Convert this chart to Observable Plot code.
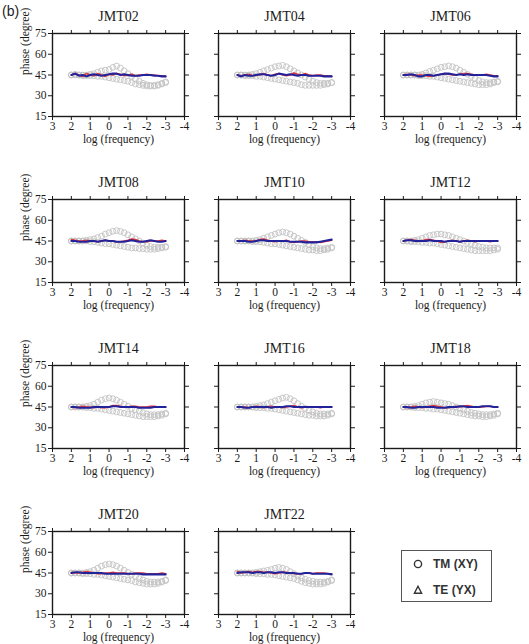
<!DOCTYPE html>
<html>
<head>
<meta charset="utf-8">
<script src="https://cdn.jsdelivr.net/npm/d3@7"></script>
<script src="https://cdn.jsdelivr.net/npm/@observablehq/plot@0.6"></script>
<style>
  body { margin: 0; background: #fff; }
  #page { position: relative; width: 529px; height: 644px; overflow: hidden; font-family: "Liberation Serif", serif; }
  #tag { position: absolute; left: 2px; top: 3px; font: 14px "Liberation Sans", sans-serif; color: #222; }
  #legend { position: absolute; left: 401px; top: 550px; width: 89px; height: 50px; border: 1.5px solid #555; background: #fff; }
  #legend .item { position: absolute; left: 0; height: 14px; display: flex; align-items: center; font: bold 12px "Liberation Sans", sans-serif; color: #333; }
  #legend svg { margin-left: 10px; margin-right: 9px; }
</style>
</head>
<body>
<div id="page">
  <div id="tag">(b)</div>
  <div id="legend">
    <div class="item" style="top:6px"><svg width="12" height="12"><circle cx="6" cy="6" r="3.6" fill="none" stroke="#333" stroke-width="1.4"/></svg>TM (XY)</div>
    <div class="item" style="top:32px"><svg width="12" height="12"><path d="M6 2.2 L9.6 9.2 L2.4 9.2 Z" fill="none" stroke="#333" stroke-width="1.4"/></svg>TE (YX)</div>
  </div>
</div>
<script>
// Stations, one panel each
const stations = ["JMT02", "JMT04", "JMT06", "JMT08", "JMT10", "JMT12", "JMT14", "JMT16", "JMT18", "JMT20", "JMT22"];

// log10 frequency sampling shared by all curves
const logFreq = [2, 1.8, 1.6, 1.4, 1.2, 1.0, 0.8, 0.6, 0.4, 0.2, 0, -0.2, -0.4, -0.6, -0.8, -1, -1.2, -1.4, -1.6, -1.8, -2, -2.2, -2.4, -2.6, -2.8, -3];

const xTicks = [3, 2, 1, 0, -1, -2, -3, -4];
const yTicks = [15, 30, 45, 60, 75];

// Grey circles, upper branch (degrees), one row per station
const tmCirclesHigh = [
  [45,45.5,45,45,45,45.5,46,47,48,48.5,49,50.5,51.5,50,48,46,44,42,40.5,39,38,37.5,37.5,38,39,40],
  [45,45,45,45,45.5,46,47,48,49,50,51,51.5,52,51,49.5,48,46.5,45,43.5,42,40.5,39.5,39,39,39,39.5],
  [45,45,45,45,45,45.5,46.5,47.5,48.5,49.5,50.5,51,51.5,51,50,48.5,47,45.5,44,42.5,41,40,39.5,39.5,40,40.5],
  [45,45,45,45,45.5,46,46.5,47.5,48.5,50,51,52,52.5,52,51,49.5,48,46.5,45,43.5,42,41,40.5,40.5,40.5,41],
  [45,45,45,45,45,45.5,46,47,48,49,50,51,51.5,51,50,48.5,47,45.5,44,42.5,41,40,39.5,39.5,40,40.5],
  [45,45,45,45.5,46,47,48,49,49.5,50,50,49.5,49,48,47,46,45,44,43,42,41,40.5,40,40,40,40],
  [45,45,45,45,45.5,46,47,48.5,50,51,51.5,51,50,48.5,47,45.5,44,43,42,41,40,39.5,39.5,39.5,40,40.5],
  [45,45,45,45,45,45.5,46,46.5,47.5,48.5,49.5,50.5,51.5,52,51,49.5,47.5,45.5,44,42.5,41.5,40.5,40,40,40,40.5],
  [45,45,45,45.5,46,47,48,48.5,49,48.5,48,47.5,47,46,45,44,43,42,41,40.5,40,39.5,39.5,39.5,40,40.5],
  [45,45,45,45,45.5,46,47,48.5,50,51,51.5,51,50,48.5,47,45.5,44,42.5,41,40,39,38.5,38.5,38.5,39,40],
  [45,45,45,45,45,45.5,46,46.5,47,47.5,48.5,49,48.5,47.5,46,44.5,43,41.5,40.5,39.5,39,38.5,38.5,38.5,39,40]
];

// Grey circles, lower branch (degrees)
const tmCirclesLow = [
  [45,45,45,44.5,44.5,44.5,44.5,44,44,43.5,43,42.5,42,41.5,41,40.5,39.5,38.5,38,37.5,37,37,37,37.5,38.5,39.5],
  [45,45,44.5,44.5,44.5,44,44,43.5,43,42.5,42,41.5,41,40.5,40,39.5,39,38,37.5,37.5,37.5,37.5,37.5,38,38.5,39.5],
  [45,45,45,45,44.5,44.5,44.5,44,44,43.5,43,42.5,42,41.5,41,40.5,40,39.5,39,38.5,38,38,38,38.5,39.5,40],
  [45,45,45,45,45,44.5,44.5,44,43.5,43,43,42.5,42,41.5,41,40.5,40,40,39.5,39.5,39,39,39,39.5,40,40.5],
  [45,45,45,45,44.5,44.5,44.5,44,43.5,43,43,42.5,42,41.5,41,40.5,40,39.5,39,38.5,38.5,38,38,38.5,39,40],
  [45,45,44.5,44.5,44.5,44,44,43.5,43.5,43,42.5,42,41.5,41,40.5,40,39.5,39,38.5,38,38,38,38,38,38.5,39],
  [45,45,45,45,44.5,44.5,44,44,43.5,43,42.5,42,41.5,41,40.5,40,39.5,39,38.5,38,38,38,38,38.5,39,40],
  [45,45,45,45,45,44.5,44.5,44.5,44,44,43.5,43,42.5,42,41.5,41,40.5,40,39.5,39,39,38.5,38.5,38.5,39,40],
  [45,45,45,44.5,44.5,44.5,44,44,43.5,43.5,43,42.5,42,41.5,41,40.5,40,39.5,39,38.5,38.5,38,38,38.5,39,40],
  [45,45,45,44.5,44.5,44.5,44,44,43.5,43,42.5,42,41.5,41,40.5,40,39.5,38.5,38,37.5,37,37,37,37.5,38.5,39.5],
  [45,45,45,45,45,44.5,44.5,44.5,44,44,43.5,43,42.5,42,41.5,41,40,39,38,37.5,37,37,37,37.5,38.5,39.5]
];

// Red curve (degrees)
const redPhase = [
  [45,46,45,44,46,45,44.5,46,45,44,45.5,45,46,45.5,44.5,45,45.5,44.5,45,45,45.5,45,45,44.5,44.5,44],
  [45,44.5,45,45.5,44.5,45,45,46,45,44.5,45.5,46,45,44.5,45,46.5,45.5,45,46,45,44.5,45,45,44.5,44.5,44],
  [45,45.5,45,44.5,45,45,44.5,44,44.5,45,45.5,46,45.5,45,45,45.5,46,46,45.5,45,45,45,45.5,45,44.5,44.5],
  [46,45.5,45,45,45.5,45,45,44.5,45,45.5,45,45,44.5,44.5,45,45.5,46.5,46,45,44.5,44.5,45,45,45,45.5,45],
  [45,45,45.5,45,45,45,46,46.5,45.5,45,44.5,45,45,45.5,44.5,44,44.5,45,45,44.5,44.5,44.5,44,44.5,45,45.5],
  [45,45.5,46,45.5,45,45,46,46,45.5,45,44,44.5,45,45.5,45,44.5,45,45.5,45,44.5,45,45,45,44.5,45,45],
  [45,44.5,45,45.5,45,45,44.5,45,44.5,44.5,45,46,46,45.5,45,45,45.5,45.5,45,45,45,45.5,45.5,45,45,45],
  [45,45,45,44.5,45,45.5,45,44.5,45,45.5,45,45,44.5,45,45.5,46,45,44.5,45,45,45,45,44.5,45,45,45],
  [45,44.5,45,45.5,45,44.5,45,45.5,46,45.5,45,44.5,44.5,45,45.5,45,45.5,46,45.5,45,45,45,45.5,45.5,45,45],
  [45.5,45,45,45.5,46,45.5,45,44.5,44.5,45,45,45.5,45,45,45,44.5,44.5,45,45,45,44.5,44.5,44.5,44.5,45,44.5],
  [46,45,45.5,46,45.5,46,46,45.5,45.5,45,44.5,45,45.5,45.5,45,44.5,44.5,44.5,45,45,44.5,45,45,45,44.5,44.5]
];

// Blue curve (degrees)
const bluePhase = [
  [45,46,44.5,45,44,45,45.5,45,44.5,45,45.5,46,46,45,45.5,45,44.5,44.5,44.5,45,45,45,44.5,44.5,44,44],
  [45,44,45,44.5,44.5,45,45.5,45.5,45,44.5,45,46,45.5,45,45.5,45,44.5,45,45,44.5,44.5,44.5,44.5,44,44,44],
  [45,45,45.5,45,44,44,45,45,44.5,45,45.5,46,46,45.5,45,45.5,45,45.5,45,45,45,45,45,44.5,44,44],
  [45,45,44.5,44.5,44.5,45,45,44.5,45,45.5,45,45,44.5,44.5,44.5,45,45.5,45,44.5,44.5,45,45.5,45,44.5,44.5,45],
  [45,45,45,44.5,44.5,45,45.5,45.5,45,45,45,45,45,45,44.5,44.5,44.5,44.5,44,44,44,44,44.5,45,45.5,46],
  [45,45.5,45.5,45,45,45,45,45.5,45,45,45,44.5,45,45,45,44.5,45,45,45,45,45,45,45,45,45,45],
  [45,45,44.5,44.5,44.5,44.5,45,45,45,45,45,45.5,45.5,45,45,45,45,45,44.5,44.5,44.5,44.5,45,45,45,45],
  [45,45,44.5,44.5,45,45,45,45,45,44.5,45,45,45,45.5,45.5,45,45,45,45,45,45,45,45,45,45,45],
  [45,45,44.5,44.5,45,45,45,45,45,44.5,44.5,44.5,45,45,45,45.5,45.5,45,45,45,45,45.5,45.5,45.5,45,45],
  [45,45.5,45.5,45,45,45,45,45,45,44.5,44.5,44.5,44.5,44.5,44.5,44.5,44.5,44.5,44.5,44,44,44,44,44,44,44],
  [45,45.5,45.5,45.5,45,45.5,45.5,45,45.5,45.5,45,45.5,45.5,45,45,45,44.5,44.5,45,45,44.5,44.5,44.5,44.5,44.5,44]
];

// Panel geometry on the page
const plotW = 132, plotH = 83;
const firstLeft = 52, firstTop = 33, colStep = 166, rowStep = 166;
const mL = 52, mR = 12, mT = 34, mB = 40;

const page = document.getElementById("page");
const noLabel = () => "";

stations.forEach((name, i) => {
  const col = i % 3, row = Math.floor(i / 3);
  const rows = logFreq.map((f, k) => ({
    f,
    hi: tmCirclesHigh[i][k],
    lo: tmCirclesLow[i][k],
    red: redPhase[i][k],
    blue: bluePhase[i][k]
  }));

  const chart = Plot.plot({
    width: mL + plotW + mR,
    height: mT + plotH + mB,
    marginLeft: mL, marginRight: mR, marginTop: mT, marginBottom: mB,
    style: { background: "transparent", overflow: "visible", fontFamily: "Liberation Serif, serif", fontSize: "11.5px", color: "#1a1a1a" },
    x: { domain: [3, -4] },
    y: { domain: [15, 75] },
    marks: [
      Plot.dot(rows, { x: "f", y: "lo", r: 2.9, stroke: "#c2c2c2", strokeWidth: 0.9 }),
      Plot.dot(rows, { x: "f", y: "hi", r: 2.9, stroke: "#c2c2c2", strokeWidth: 0.9 }),
      Plot.line(rows, { x: "f", y: "red", stroke: "#e0393a", strokeWidth: 1.6 }),
      Plot.line(rows, { x: "f", y: "blue", stroke: "#22229a", strokeWidth: 2.1 }),
      Plot.frame({ stroke: "#1a1a1a", strokeWidth: 1.4 }),
      Plot.axisX({ anchor: "bottom", ticks: xTicks, tickSize: 4, tickPadding: 1, tickFormat: d => String(d), label: null }),
      Plot.axisX({ anchor: "top", ticks: xTicks, tickSize: 4, tickFormat: noLabel, label: null }),
      Plot.axisY({ anchor: "left", ticks: yTicks, tickSize: 4, tickPadding: 2, tickFormat: col === 0 ? d => String(d) : noLabel, label: null }),
      Plot.axisY({ anchor: "right", ticks: yTicks, tickSize: 4, tickFormat: noLabel, label: null }),
      Plot.text([name], { text: d => d, frameAnchor: "top", dy: -22, fontSize: 14 }),
      Plot.text(["log (frequency)"], { text: d => d, frameAnchor: "bottom", dy: 26, fontSize: 11.5 }),
      col === 0 ? Plot.text(["phase (degree)"], { text: d => d, frameAnchor: "left", dx: -27, rotate: -90, fontSize: 11.5 }) : null
    ]
  });

  chart.style.position = "absolute";
  chart.style.left = (firstLeft + col * colStep - mL) + "px";
  chart.style.top = (firstTop + row * rowStep - mT) + "px";
  page.appendChild(chart);
});
</script>
</body>
</html>
